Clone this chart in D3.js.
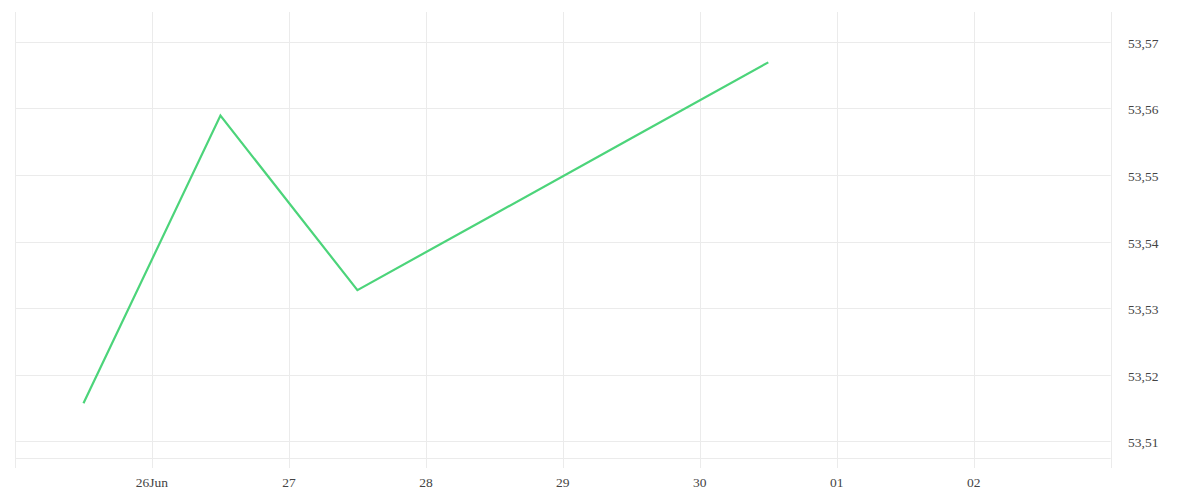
<!DOCTYPE html>
<html>
<head>
<meta charset="utf-8">
<script src="https://cdn.jsdelivr.net/npm/d3@7"></script>
<style>
  html, body { margin: 0; padding: 0; background: #ffffff; }
  svg { display: block; }
  text { font-family: "Liberation Serif", serif; font-size: 13.5px; fill: #444; }
</style>
</head>
<body>
<svg id="chart" width="1200" height="500"></svg>
<script>
// Data
const dates = ["2024-06-25T12:00", "2024-06-26T12:00", "2024-06-27T12:00", "2024-06-28T12:00", "2024-06-29T12:00", "2024-06-30T12:00"];
const values = [53.5157, 53.5589, 53.5327, 53.5441, 53.5555, 53.5669];
const xTickDates = ["2024-06-26", "2024-06-27", "2024-06-28", "2024-06-29", "2024-06-30", "2024-07-01", "2024-07-02"];
const xTickLabels = ["26Jun", "27", "28", "29", "30", "01", "02"];
const yTicks = [53.51, 53.52, 53.53, 53.54, 53.55, 53.56, 53.57];

const parse = d3.timeParse("%Y-%m-%dT%H:%M");
const parseDay = d3.timeParse("%Y-%m-%d");
const data = dates.map((d, i) => ({ date: parse(d), value: values[i] }));

const svg = d3.select("#chart");
const mLeft = 15, mRight = 1110.7, mTop = 12, mBottom = 458, tickBottom = 468;

const x = d3.scaleTime()
  .domain([parseDay("2024-06-25"), parseDay("2024-07-03")])
  .range([mLeft, mRight]);

const y = d3.scaleLinear().domain([53.51, 53.57]).range([441.3, 41.7]);

const locale = d3.formatLocale({ decimal: ",", thousands: ".", grouping: [3], currency: ["", ""] });
const fmt = locale.format(".2f");

const grid = svg.append("g");
const vLines = [parseDay("2024-06-25")].concat(xTickDates.map(parseDay)).concat([parseDay("2024-07-03")]);
grid.selectAll("line.v").data(vLines).enter().append("line")
  .attr("x1", d => Math.round(x(d)) + 0.5).attr("x2", d => Math.round(x(d)) + 0.5)
  .attr("y1", mTop).attr("y2", tickBottom)
  .attr("stroke", "#ebebeb").attr("stroke-width", 1);
grid.selectAll("line.h").data(yTicks).enter().append("line")
  .attr("x1", mLeft).attr("x2", mRight)
  .attr("y1", d => Math.round(y(d)) + 0.5).attr("y2", d => Math.round(y(d)) + 0.5)
  .attr("stroke", "#ebebeb").attr("stroke-width", 1);
grid.append("line")
  .attr("x1", mLeft).attr("x2", mRight)
  .attr("y1", mBottom + 0.5).attr("y2", mBottom + 0.5)
  .attr("stroke", "#ebebeb").attr("stroke-width", 1);

svg.append("g").selectAll("text").data(xTickDates).enter().append("text")
  .attr("x", d => x(parseDay(d)))
  .attr("y", 487)
  .attr("text-anchor", "middle")
  .text((d, i) => xTickLabels[i]);

svg.append("g").selectAll("text").data(yTicks).enter().append("text")
  .attr("x", 1128)
  .attr("y", d => y(d) + 6)
  .attr("text-anchor", "start")
  .text(d => fmt(d));

const line = d3.line().x(d => x(d.date)).y(d => y(d.value));
svg.append("path").datum(data)
  .attr("d", line)
  .attr("fill", "none")
  .attr("stroke", "#4cd47a")
  .attr("stroke-width", 2.2)
  .attr("stroke-linejoin", "miter");
</script>
</body>
</html>
